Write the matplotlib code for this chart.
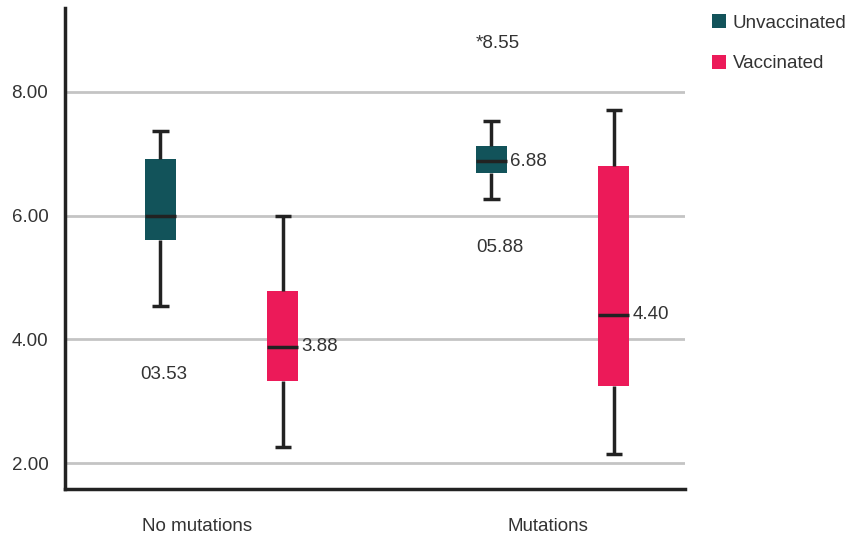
import matplotlib.pyplot as plt
from matplotlib.patches import Patch

plt.rcParams.update({'font.family': ['Liberation Sans', 'DejaVu Sans'], 'font.size': 13.5})

groups = ["No mutations", "Mutations"]
series = ["Unvaccinated", "Vaccinated"]
colors = ["#12535a", "#ec1a59"]

# box stats per series, one entry per group
whislo = [[4.54, 6.27], [2.26, 2.15]]
q1 = [[5.61, 6.69], [3.33, 3.25]]
med = [[6.00, 6.88], [3.88, 4.40]]
q3 = [[6.91, 7.12], [4.78, 6.80]]
whishi = [[7.37, 7.52], [6.00, 7.70]]

med_labels = [[None, "6.88"], ["3.88", "4.40"]]

# loose value labels
extra_text = ["03.53", "*8.55", "05.88"]
extra_x = [-0.17, 0.838, 0.845]
extra_y = [3.44, 8.77, 5.48]

fig = plt.figure(figsize=(8.49, 5.35), dpi=100)
ax = fig.add_axes([0.0766, 0.0854, 0.7303, 0.8996])

offs = [-0.18, 0.19]
width = 0.094
line = dict(color="#222222", linewidth=2.5, solid_capstyle="butt")
for s in range(2):
    stats = []
    for g in range(2):
        stats.append(dict(whislo=whislo[s][g], q1=q1[s][g], med=med[s][g],
                          q3=q3[s][g], whishi=whishi[s][g], fliers=[]))
    pos = [g + offs[s] for g in range(2)]
    ax.bxp(stats, positions=pos, widths=width, patch_artist=True,
           showfliers=False, manage_ticks=False,
           boxprops=dict(facecolor=colors[s], edgecolor="none", linewidth=0),
           medianprops=line, whiskerprops=line, capprops=line,
           capwidths=0.05, zorder=3)
    for g in range(2):
        if med_labels[s][g]:
            ax.text(pos[g] + width / 2 + 0.009, med[s][g], med_labels[s][g],
                    va="center", ha="left", color="#333333")

for t, x, y in zip(extra_text, extra_x, extra_y):
    ax.text(x, y, t, ha="center", va="center", color="#333333")

ax.set_xlim(-0.468, 1.405)
ax.set_ylim(1.58, 9.35)
ax.set_yticks([2, 4, 6, 8])
ax.set_yticklabels(["2.00", "4.00", "6.00", "8.00"], color="#333333")
ax.set_xticks([-0.07, 0.99])
ax.set_xticklabels(groups, color="#333333")
ax.tick_params(axis="y", length=0, pad=12)
ax.tick_params(axis="x", length=0, pad=21)
ax.grid(axis="y", color="#c4c4c4", linewidth=2, zorder=0)
ax.set_axisbelow(True)
for side in ["top", "right"]:
    ax.spines[side].set_visible(False)
for side in ["left", "bottom"]:
    ax.spines[side].set_color("#222222")
    ax.spines[side].set_linewidth(2.5)

handles = [Patch(facecolor=c, edgecolor="none", label=l) for c, l in zip(colors, series)]
fig.legend(handles=handles, loc="upper left", bbox_to_anchor=(0.819, 1.005),
           frameon=False, handlelength=0.75, handleheight=0.75,
           handletextpad=0.35, labelspacing=1.25, labelcolor="#333333")

fig.savefig("out.png", dpi=100)
